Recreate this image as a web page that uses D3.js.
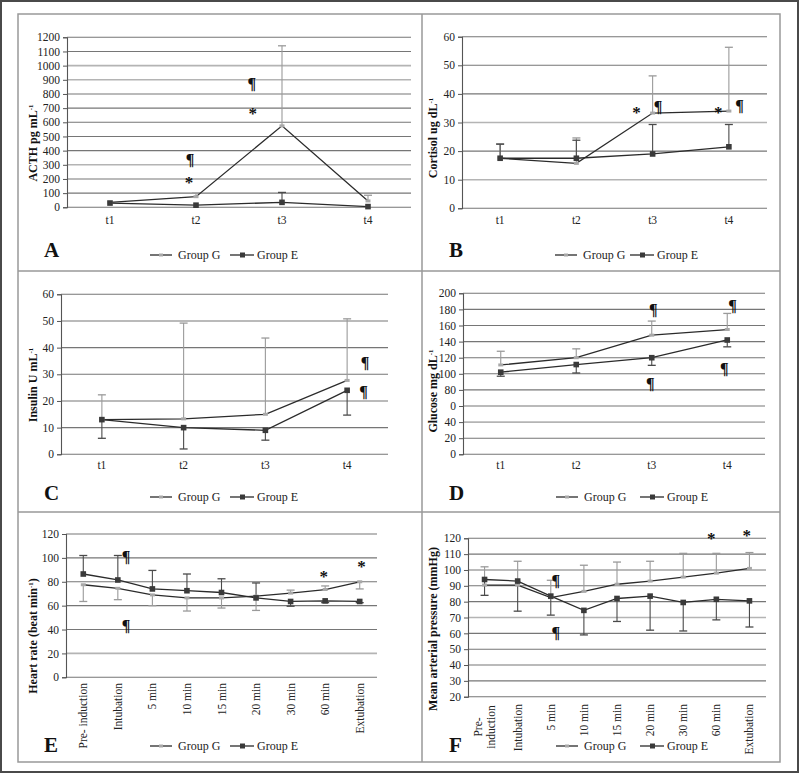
<!DOCTYPE html>
<html><head><meta charset="utf-8">
<script src="https://cdn.jsdelivr.net/npm/d3@7/dist/d3.min.js"></script>
<style>html,body{margin:0;padding:0;background:#fff}svg{display:block}
svg text{font-family:'Liberation Serif','DejaVu Serif',serif}
.note{opacity:0.995}</style>
</head><body>
<svg id="c" width="800" height="774"></svg>
<script>
// ---------- DATA ----------
const tCats = ["t1","t2","t3","t4"];
const periCats = ["Pre- induction","Intubation","5 min","10 min","15 min","20 min","30 min","60 min","Extubation"];
const periLabelsF = ["Pre-\ninduction","Intubation","5 min","10 min","15 min","20 min","30 min","60 min","Extubation"];
const groupNames = ["Group G","Group E"];

// A: ACTH
const acthTicks = [0,100,200,300,400,500,600,700,800,900,1000,1100,1200];
const acthG = [35, 75, 575, 45];
const acthGUp = [null, 100, 1140, 85];
const acthE = [30, 15, 35, 5];
const acthEUp = [null, null, 105, null];

// B: Cortisol
const cortTicks = [0,10,20,30,40,50,60];
const cortG = [17.5, 15.7, 33.3, 34.0];
const cortGUp = [22.6, 24.6, 46.3, 56.3];
const cortE = [17.5, 17.5, 19.0, 21.5];
const cortEUp = [22.4, 23.8, 29.3, 29.3];

// C: Insulin
const insTicks = [0,10,20,30,40,50,60];
const insG = [13, 13.3, 15, 27.7];
const insGUp = [22.3, 49.2, 43.6, 50.8];
const insE = [13, 10, 9, 24];
const insEDown = [6, 2, 5.3, 14.7];

// D: Glucose (tick label "0" at 60 as printed)
const gluTicks = [0,20,40,60,80,100,120,140,160,180,200];
const gluTickLabels = ["0","20","40","0","80","100","120","140","160","180","200"];
const gluG = [111, 120, 148, 155];
const gluGUp = [128, 131, 165.5, 175];
const gluE = [102, 111.5, 120, 142];
const gluEDown = [97, 101, 110.5, 133.5];

// E: Heart rate
const hrTicks = [0,20,40,60,80,100,120];
const hrG = [77.5, 74.5, 69, 66.5, 66.5, 68, 70.5, 73.5, 80];
const hrGUp = [null, null, null, null, null, null, 73, 76.5, null];
const hrGDown = [63.5, 65, 60, 55.5, 58, 56, null, null, 74];
const hrE = [86.5, 81.5, 74, 72.5, 71, 66.5, 63.5, 64, 63.5];
const hrEUp = [102, 102, 89.5, 86.5, 82.5, 79, null, null, null];
const hrEDown = [null, null, null, null, null, null, 59.5, 62.5, 62.5];

// F: Mean arterial pressure
const mapTicks = [20,30,40,50,60,70,80,90,100,110,120];
const mapG = [90.5, 90.5, 82.5, 86.5, 91, 93, 95.5, 98, 101];
const mapGUp = [102, 105.5, 93.5, 103, 105, 105.5, 110.5, 110.5, 111];
const mapE = [94, 93, 83.5, 74.5, 82, 83.5, 79.5, 81.5, 80.5];
const mapEDown = [84, 74, 71.5, 59, 67.5, 62, 61.5, 68.5, 64];

// annotations: [category, offset in band fraction, value, symbol]
const acthNotes = [["t2",-0.07,341,"¶"],["t2",-0.08,214,"*"],["t3",-0.35,877,"¶"],["t3",-0.34,700,"*"]];
const cortNotes = [["t3",-0.21,35.4,"*"],["t3",0.07,35.6,"¶"],["t4",-0.14,35.4,"*"],["t4",0.14,36,"¶"]];
const insNotes = [["t4",0.22,34.7,"¶"],["t4",0.2,23.7,"¶"]];
const gluNotes = [["t3",0.02,180.5,"¶"],["t3",-0.02,88.6,"¶"],["t4",0.07,185.5,"¶"],["t4",-0.04,107.3,"¶"]];
const hrNotes = [["Intubation",0.24,101,"¶"],["Intubation",0.24,43.8,"¶"],["60 min",-0.04,88.4,"*"],["Extubation",0.05,96.6,"*"]];
const mapNotes = [["5 min",0.15,93.7,"¶"],["5 min",0.15,60.4,"¶"],["60 min",-0.15,123.2,"*"],["Extubation",-0.08,124.9,"*"]];

// ---------- DRAW ----------
const svg = d3.select("#c");
const FONT = "'Liberation Serif','DejaVu Serif',serif";
const colLine = "#2b2b2b", colG = "#a8a8a8", colE = "#3a3a3a", colGErr = "#9a9a9a", colEErr = "#4a4a4a";

// frames
svg.append("rect").attr("x",1).attr("y",1).attr("width",797).attr("height",771)
  .attr("fill","none").attr("stroke","#4a4a4a").attr("stroke-width",2);
svg.append("rect").attr("x",18).attr("y",14).attr("width",762).attr("height",748)
  .attr("fill","none").attr("stroke","#999").attr("stroke-width",1.5);
svg.append("line").attr("x1",422).attr("x2",422).attr("y1",14).attr("y2",762).attr("stroke","#999").attr("stroke-width",1.5);
[271,512].forEach(y=>svg.append("line").attr("x1",18).attr("x2",780).attr("y1",y).attr("y2",y).attr("stroke","#999").attr("stroke-width",1.5));

function panel(cfg){
  const g = svg.append("g");
  const x = d3.scaleBand().domain(cfg.cats).range([cfg.x0,cfg.x1]).padding(0);
  const cx = c => x(c) + x.bandwidth()/2;
  const y = d3.scaleLinear().domain(cfg.domain).range([cfg.yBot,cfg.yTop]);

  // gridlines
  g.selectAll(".grid").data(cfg.ticks).join("line")
    .attr("x1",cfg.x0).attr("x2",cfg.x1)
    .attr("y1",d=>y(d)).attr("y2",d=>y(d))
    .attr("stroke",d=> (cfg.light||[]).includes(d) ? "#b4b4b4" : "#767676")
    .attr("stroke-width",d=> (cfg.light||[]).includes(d) ? 1.6 : 1.1);

  // y axis
  const ax = d3.axisLeft(y).tickValues(cfg.ticks).tickSize(4).tickPadding(3)
    .tickFormat((d,i)=> cfg.tickLabels ? cfg.tickLabels[i] : d);
  const ag = g.append("g").attr("transform",`translate(${cfg.x0},0)`).call(ax);
  ag.attr("font-family",FONT);
  ag.select(".domain").attr("stroke","#555").attr("stroke-width",1.1);
  ag.selectAll(".tick line").attr("stroke","#555");
  ag.selectAll(".tick text").attr("font-family",FONT).attr("font-size",11.5).attr("fill","#222");

  // x labels
  if(!cfg.rotate){
    g.selectAll(".xl").data(cfg.cats).join("text")
      .attr("x",d=>cx(d)).attr("y",cfg.xLabelY)
      .attr("text-anchor","middle").attr("font-family",FONT).attr("font-size",11.5).attr("fill","#222")
      .text(d=>d);
  } else {
    cfg.cats.forEach((c,i)=>{
      const lines = (cfg.catLabels ? cfg.catLabels[i] : c).split("\n");
      const t = g.append("text")
        .attr("transform",`translate(${cx(c)},${lines.length>1?cfg.xLabelMid:cfg.xLabelY}) rotate(-90)`)
        .attr("text-anchor",lines.length>1?"middle":"end")
        .attr("font-family",FONT).attr("font-size",11.5).attr("fill","#222");
      lines.forEach((l,j)=>{
        t.append("tspan").attr("x",0).attr("dy", j===0 ? (0.35-(lines.length-1)*0.55)+"em" : "1.1em").text(l);
      });
    });
  }

  // error bars
  const cap = 4;
  function err(vals, ends, color){
    cfg.cats.forEach((c,i)=>{
      if(ends[i]==null) return;
      g.append("line").attr("x1",cx(c)).attr("x2",cx(c)).attr("y1",y(vals[i])).attr("y2",y(ends[i]))
        .attr("stroke",color).attr("stroke-width",1.1);
      g.append("line").attr("x1",cx(c)-cap).attr("x2",cx(c)+cap).attr("y1",y(ends[i])).attr("y2",y(ends[i]))
        .attr("stroke",color).attr("stroke-width",1.3);
    });
  }
  const [sG, sE] = cfg.series;
  if(sG.up) err(sG.vals,sG.up,colGErr);
  if(sG.down) err(sG.vals,sG.down,colGErr);
  if(sE.up) err(sE.vals,sE.up,colEErr);
  if(sE.down) err(sE.vals,sE.down,colEErr);

  // lines
  const line = d3.line().x((d,i)=>cx(cfg.cats[i])).y(d=>y(d));
  [sG,sE].forEach(s=>{
    g.append("path").attr("d",line(s.vals)).attr("fill","none").attr("stroke",colLine).attr("stroke-width",1.3);
  });
  // markers
  sG.vals.forEach((v,i)=>{
    g.append("line").attr("x1",cx(cfg.cats[i])-2.5).attr("x2",cx(cfg.cats[i])+2.5).attr("y1",y(v)).attr("y2",y(v))
      .attr("stroke",colG).attr("stroke-width",3);
  });
  sE.vals.forEach((v,i)=>{
    g.append("rect").attr("x",cx(cfg.cats[i])-2.8).attr("y",y(v)-2.8).attr("width",5.6).attr("height",5.6).attr("fill",colE);
  });

  // annotations
  cfg.notes.forEach(([c,dx,v,s])=>{
    g.append("text").attr("class","note").attr("x",cx(c)+dx*x.bandwidth()).attr("y",y(v))
      .attr("dy", s==="*" ? "0.62em" : "0.36em")
      .attr("text-anchor","middle").attr("font-family",FONT)
      .attr("font-weight","bold").attr("font-size", s==="*"?17:16).attr("fill","#111").text(s);
  });

  // y title
  g.append("text").attr("transform",`translate(${cfg.titleX},${cfg.titleY}) rotate(-90)`)
    .attr("text-anchor","middle").attr("dy","0.35em").attr("font-family",FONT).attr("font-weight","bold")
    .attr("font-size",12).attr("fill","#111")
    .call(t=>{ t.append("tspan").text(cfg.title[0]); if(cfg.title[1]) t.append("tspan").attr("font-size",7).attr("dy","-0.6em").text(cfg.title[1]); if(cfg.title[2]) t.append("tspan").attr("font-size",12).attr("dy","0.35em").text(cfg.title[2]); });

  // panel letter
  g.append("text").attr("x",cfg.letterX).attr("y",cfg.letterY).attr("font-family",FONT).attr("font-weight","bold")
    .attr("font-size",21).attr("fill","#111").text(cfg.letter);

  // legend
  const ly = cfg.legendY;
  const lg = cfg.legend;
  g.append("line").attr("x1",lg[0]).attr("x2",lg[0]+22).attr("y1",ly).attr("y2",ly).attr("stroke",colLine).attr("stroke-width",1.3);
  g.append("line").attr("x1",lg[0]+9).attr("x2",lg[0]+13).attr("y1",ly).attr("y2",ly).attr("stroke",colG).attr("stroke-width",3);
  g.append("text").attr("x",lg[0]+28).attr("y",ly+4).attr("font-family",FONT).attr("font-size",12).attr("fill","#222").text(groupNames[0]);
  g.append("line").attr("x1",lg[1]).attr("x2",lg[1]+24).attr("y1",ly).attr("y2",ly).attr("stroke",colLine).attr("stroke-width",1.3);
  g.append("rect").attr("x",lg[1]+10).attr("y",ly-2.5).attr("width",5).attr("height",5).attr("fill",colE);
  g.append("text").attr("x",lg[1]+27).attr("y",ly+4).attr("font-family",FONT).attr("font-size",12).attr("fill","#222").text(groupNames[1]);
}

panel({cats:tCats, x0:67, x1:411, yTop:37.3, yBot:207.3, domain:[0,1200], ticks:acthTicks, light:[300,900,1000],
  xLabelY:224, series:[{vals:acthG, up:acthGUp},{vals:acthE, up:acthEUp}], notes:acthNotes,
  title:["ACTH pg mL","-1"], titleX:33, titleY:143, letter:"A", letterX:44, letterY:257, legendY:255, legend:[150,230]});

panel({cats:tCats, x0:462, x1:767, yTop:36.7, yBot:208.3, domain:[0,60], ticks:cortTicks, light:[10,30],
  xLabelY:224, series:[{vals:cortG, up:cortGUp},{vals:cortE, up:cortEUp}], notes:cortNotes,
  title:["Cortisol ug dL","-1"], titleX:433, titleY:138, letter:"B", letterX:449, letterY:257, legendY:255, legend:[555,630]});

panel({cats:tCats, x0:61, x1:388, yTop:294.3, yBot:454.3, domain:[0,60], ticks:insTicks,
  xLabelY:469, series:[{vals:insG, up:insGUp},{vals:insE, down:insEDown}], notes:insNotes,
  title:["Insulin U mL","-1"], titleX:33, titleY:385, letter:"C", letterX:44, letterY:500, legendY:497, legend:[150,230]});

panel({cats:tCats, x0:463, x1:765, yTop:293.3, yBot:454.3, domain:[0,200], ticks:gluTicks, tickLabels:gluTickLabels, light:[40],
  xLabelY:469, series:[{vals:gluG, up:gluGUp},{vals:gluE, down:gluEDown}], notes:gluNotes,
  title:["Glucose mg dL","-1"], titleX:433, titleY:391, letter:"D", letterX:449, letterY:500, legendY:497, legend:[556,640]});

panel({cats:periCats, x0:66, x1:377, yTop:534, yBot:677.3, domain:[0,120], ticks:hrTicks, light:[20],
  rotate:true, xLabelY:683, series:[{vals:hrG, up:hrGUp, down:hrGDown},{vals:hrE, up:hrEUp, down:hrEDown}], notes:hrNotes,
  title:["Heart rate (beat min","-1",")"], titleX:33, titleY:636, letter:"E", letterX:44, letterY:752, legendY:746, legend:[150,230]});

panel({cats:periCats, catLabels:periLabelsF, x0:468, x1:766, yTop:538.3, yBot:696.7, domain:[20,120], ticks:mapTicks, light:[70],
  rotate:true, xLabelY:704, xLabelMid:727, series:[{vals:mapG, up:mapGUp},{vals:mapE, down:mapEDown}], notes:mapNotes,
  title:["Mean arterial pressure (mmHg)"], titleX:433, titleY:629, letter:"F", letterX:449, letterY:752, legendY:746, legend:[556,640]});
</script>
</body></html>
